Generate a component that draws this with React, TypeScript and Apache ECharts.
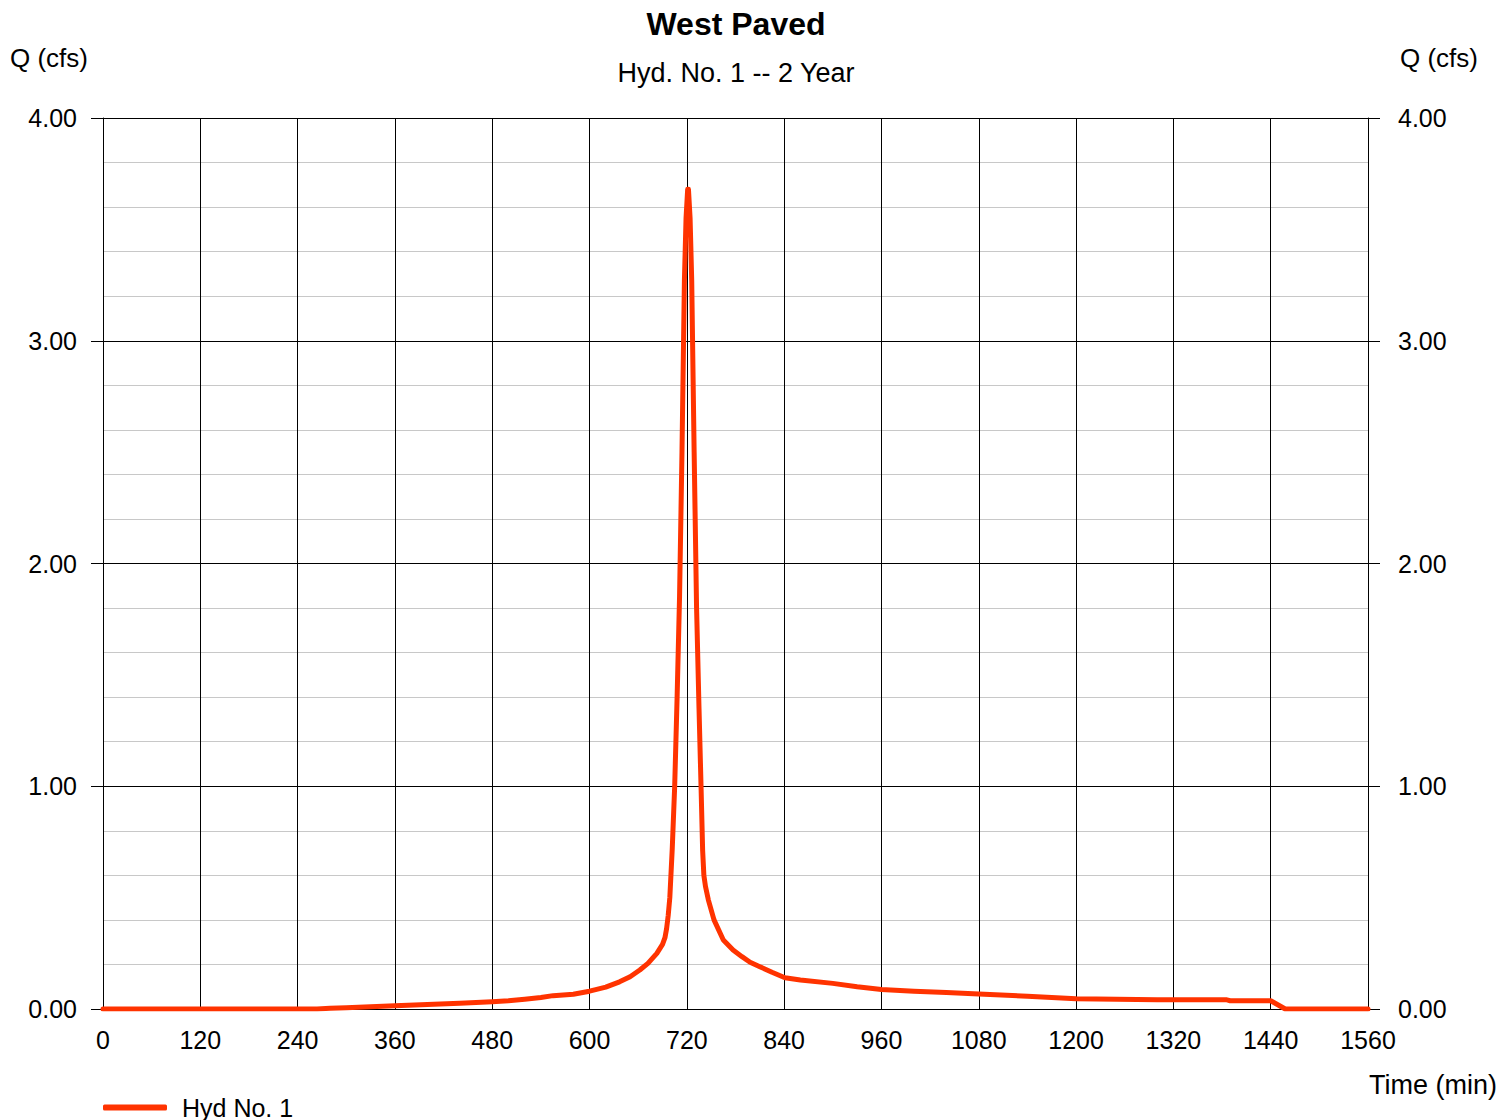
import React, { useEffect, useRef } from "react";
import * as echarts from "echarts";

const times: number[] = [
  0, 264, 280, 300, 330, 360, 400, 440, 480, 500, 520, 540, 555, 580, 600, 620, 637, 650, 662, 672,
  683, 690, 693, 695, 697, 699, 702, 705, 708, 711, 714, 717, 719, 721, 722, 724, 726, 729, 732, 735,
  737.5, 739.5, 741, 743, 746.5, 753.5, 765, 777, 788, 798, 810, 825, 841, 860, 900, 930, 960, 1000,
  1040, 1080, 1140, 1200, 1300, 1386, 1390, 1440, 1458, 1560,
];
const flows: number[] = [
  0, 0, 0.003, 0.006, 0.01, 0.015, 0.02, 0.026, 0.033, 0.037, 0.044, 0.052, 0.06, 0.066, 0.08, 0.098,
  0.122, 0.145, 0.175, 0.205, 0.25, 0.29, 0.32, 0.36, 0.42, 0.5, 0.72, 1.0, 1.4, 1.85, 2.5, 3.27, 3.55,
  3.68, 3.68, 3.55, 3.27, 2.5, 1.8, 1.35, 1.0, 0.71, 0.6, 0.55, 0.49, 0.4, 0.31, 0.265, 0.235, 0.21,
  0.19, 0.165, 0.14, 0.13, 0.115, 0.1, 0.088, 0.08, 0.074, 0.067, 0.057, 0.046, 0.042, 0.041, 0.037,
  0.037, 0, 0,
];

const chartTitle = "West Paved";
const chartSubtitle = "Hyd. No. 1 -- 2 Year";
const seriesName = "Hyd No. 1";
const yAxisTitle = "Q (cfs)";
const xAxisTitle = "Time (min)";

const FONT = "Liberation Sans, Arial, sans-serif";

export default function App() {
  const ref = useRef<HTMLDivElement>(null);
  useEffect(() => {
    if (!ref.current) return;
    const chart = echarts.init(ref.current, undefined, { renderer: "svg" });
    const yAxisBase = {
      type: "value" as const,
      min: 0,
      max: 4,
      interval: 1,
      axisLine: { show: true, lineStyle: { color: "#000", width: 1 } },
      axisTick: { show: true, inside: false, length: 12, lineStyle: { color: "#000" } },
      axisLabel: {
        color: "#000",
        fontSize: 25,
        fontFamily: FONT,
        formatter: (v: number) => v.toFixed(2),
      },
      splitLine: { show: true, lineStyle: { color: "#000", width: 1 } },
      minorTick: { show: false, splitNumber: 5 },
      minorSplitLine: { show: true, lineStyle: { color: "#c8c8c8", width: 1 } },
    };
    chart.setOption({
      animation: false,
      backgroundColor: "#fff",
      title: {
        text: chartTitle,
        subtext: chartSubtitle,
        left: 731,
        textAlign: "center",
        top: 3,
        itemGap: 19,
        textStyle: { color: "#000", fontSize: 32, fontWeight: "bold", fontFamily: FONT },
        subtextStyle: { color: "#000", fontSize: 27, fontFamily: FONT },
      },
      grid: { left: 103, right: 131, top: 118, bottom: 111, containLabel: false },
      legend: {
        show: true,
        left: 98,
        top: 1090,
        icon: "roundRect",
        itemWidth: 64,
        itemHeight: 6,
        data: [seriesName],
        textStyle: { color: "#000", fontSize: 25, fontFamily: FONT, padding: [0, 0, 0, 10] },
      },
      xAxis: {
        type: "value",
        min: 0,
        max: 1560,
        interval: 120,
        axisLine: { show: true, lineStyle: { color: "#000", width: 1 } },
        axisTick: { show: false },
        axisLabel: {
          color: "#000",
          fontSize: 25,
          fontFamily: FONT,
          margin: 18,
          formatter: (v: number) => String(v),
        },
        splitLine: { show: true, lineStyle: { color: "#000", width: 1 } },
      },
      yAxis: [
        { ...yAxisBase, position: "left", axisLabel: { ...yAxisBase.axisLabel, margin: 26 } },
        { ...yAxisBase, position: "right", axisLabel: { ...yAxisBase.axisLabel, margin: 30 } },
      ],
      graphic: [
        {
          type: "text",
          left: 10,
          top: 45,
          style: { text: yAxisTitle, fill: "#000", fontSize: 26, fontFamily: FONT },
        },
        {
          type: "text",
          right: 21,
          top: 45,
          style: { text: yAxisTitle, fill: "#000", fontSize: 26, fontFamily: FONT },
        },
        {
          type: "text",
          right: 2,
          top: 1071,
          style: { text: xAxisTitle, fill: "#000", fontSize: 27, fontFamily: FONT },
        },
      ],
      series: [
        {
          name: seriesName,
          type: "line",
          yAxisIndex: 0,
          data: times.map((t, i) => [t, flows[i]]),
          showSymbol: false,
          symbol: "none",
          color: "#ff3300",
          lineStyle: { color: "#ff3300", width: 5, join: "round", cap: "round" },
        },
      ],
    });
    return () => chart.dispose();
  }, []);
  return <div ref={ref} style={{ width: 1499, height: 1120, position: "absolute", left: 0, top: 0 }} />;
}
